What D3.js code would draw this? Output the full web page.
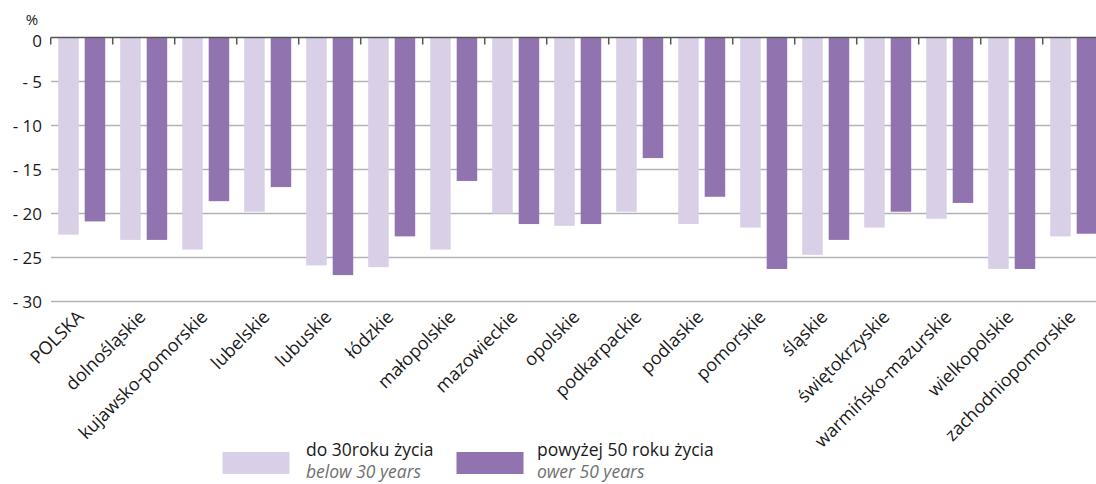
<!DOCTYPE html>
<html><head><meta charset="utf-8">
<script src="https://cdn.jsdelivr.net/npm/d3@7"></script>
<style>
html,body{margin:0;padding:0;background:#fff;overflow:hidden}
text{font-family:"Open Sans",sans-serif}
</style></head>
<body><svg id="c" width="1096" height="484"></svg>
<script>
const categories = ["POLSKA","dolnośląskie","kujawsko-pomorskie","lubelskie","lubuskie","łódzkie","małopolskie","mazowieckie","opolskie","podkarpackie","podlaskie","pomorskie","śląskie","świętokrzyskie","warmińsko-mazurskie","wielkopolskie","zachodniopomorskie"];
const seriesKeys = ["below30","over50"];
const below30 = [-22.4,-23.0,-24.1,-19.8,-25.9,-26.1,-24.1,-20.0,-21.4,-19.8,-21.2,-21.6,-24.7,-21.6,-20.6,-26.3,-22.6];
const over50 = [-20.9,-23.0,-18.6,-17.0,-27.0,-22.6,-16.3,-21.2,-21.2,-13.7,-18.1,-26.3,-23.0,-19.8,-18.8,-26.3,-22.3];
const yTicks = [0,-5,-10,-15,-20,-25,-30];
const legendMain = ["do 30roku życia","powyżej 50 roku życia"];
const legendSub = ["below 30 years","ower 50 years"];
const colors = {below30:"#d9d0e8", over50:"#9173b0"};

const svg = d3.select("#c");
const x = d3.scaleBand().domain(categories).range([50.7,1104.7]).padding(0);
const xs = d3.scaleBand().domain(seriesKeys).range([0,x.bandwidth()]).paddingInner(0.226).paddingOuter(0.283);
const y = d3.scaleLinear().domain([0,-30]).range([37.5,301.5]);

// gridlines
svg.append("g").selectAll("line").data(yTicks.filter(d=>d!==0)).join("line")
  .attr("x1",51).attr("x2",1096).attr("y1",d=>y(d)).attr("y2",d=>y(d))
  .attr("stroke","#b3b3b3").attr("stroke-width",1.4);

// y labels
svg.append("g").selectAll("text").data(yTicks).join("text")
  .attr("x",42).attr("y",d=>y(d)+(d===0?9.5:6)).attr("text-anchor","end")
  .attr("font-size",17).attr("fill","#1a1a1a")
  .text(d=>d===0?"0":"- "+Math.abs(d));
svg.append("text").attr("x",32).attr("y",25).attr("text-anchor","middle")
  .attr("font-size",15).attr("fill","#1a1a1a").text("%");

// bars
const data = categories.map((c,i)=>({c, below30:below30[i], over50:over50[i]}));
const g = svg.append("g");
g.selectAll("g").data(data).join("g")
  .attr("transform",d=>`translate(${x(d.c)},0)`)
  .selectAll("rect").data(d=>seriesKeys.map(k=>({k,v:d[k]}))).join("rect")
  .attr("x",d=>xs(d.k)).attr("width",xs.bandwidth())
  .attr("y",y(0)).attr("height",d=>y(d.v)-y(0))
  .attr("fill",d=>colors[d.k]);

// zero axis line with ticks
svg.append("line").attr("x1",50.7).attr("x2",1096).attr("y1",y(0)).attr("y2",y(0))
  .attr("stroke","#555").attr("stroke-width",1.5);
svg.append("g").selectAll("line").data(categories).join("line")
  .attr("x1",d=>x(d)).attr("x2",d=>x(d)).attr("y1",y(0)).attr("y2",y(0)+7)
  .attr("stroke","#555").attr("stroke-width",1.5);

// x labels
svg.append("g").selectAll("text").data(categories).join("text")
  .attr("transform",d=>`translate(${x(d)+x.bandwidth()/2+3},${318}) rotate(-45)`)
  .attr("text-anchor","end").attr("font-size",18).attr("fill","#1a1a1a")
  .text(d=>d);

// legend
const lx = [222.5,456.5];
const tx = [306,537];
const leg = svg.append("g");
seriesKeys.forEach((k,i)=>{
  leg.append("rect").attr("x",lx[i]).attr("y",452).attr("width",67).attr("height",22).attr("fill",colors[k]);
  leg.append("text").attr("x",tx[i]).attr("y",456).attr("font-size",17.5).attr("fill","#1a1a1a").text(legendMain[i]);
  leg.append("text").attr("x",tx[i]).attr("y",478).attr("font-size",17.5).attr("font-style","italic").attr("fill","#707070").text(legendSub[i]);
});
</script></body></html>
